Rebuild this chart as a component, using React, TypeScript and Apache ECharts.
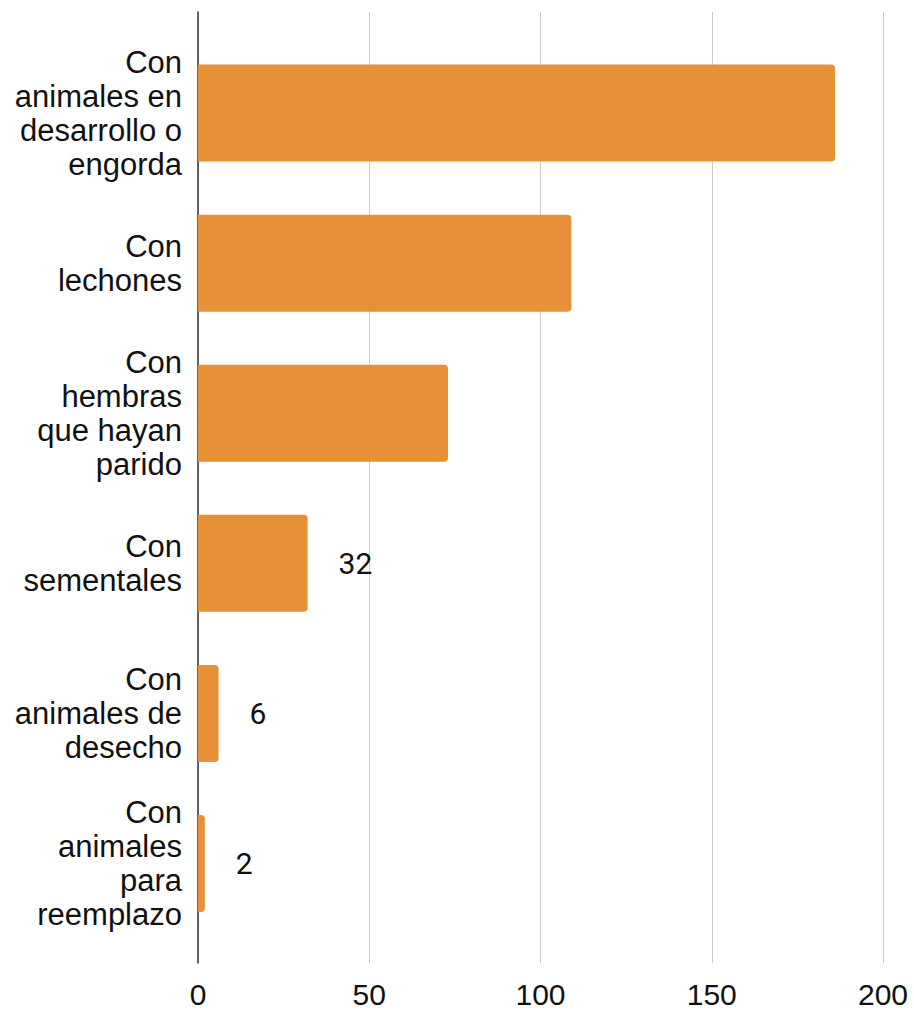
import React, { useEffect, useRef } from "react";
import * as echarts from "echarts";

const categories = [
  "Con\nanimales en\ndesarrollo o\nengorda",
  "Con\nlechones",
  "Con\nhembras\nque hayan\nparido",
  "Con\nsementales",
  "Con\nanimales de\ndesecho",
  "Con\nanimales\npara\nreemplazo",
];
const values = [186, 109, 73, 32, 6, 2];
const labelShown = [false, false, false, true, true, true];
const xMin = 0;
const xMax = 200;
const xInterval = 50;

export default function App() {
  const ref = useRef<HTMLDivElement>(null);
  useEffect(() => {
    if (!ref.current) return;
    const chart = echarts.init(ref.current, undefined, { renderer: "svg" });
    const axisFont = "'Liberation Sans', Arial, sans-serif";
    chart.setOption({
      animation: false,
      backgroundColor: "#ffffff",
      grid: [
        { left: 198, right: 31, top: 12, bottom: 48 },
        { left: 198, right: 31, top: 38, height: 900.6 },
      ],
      xAxis: [
        {
          type: "value",
          gridIndex: 0,
          min: xMin,
          max: xMax,
          interval: xInterval,
          axisLine: { show: false },
          axisTick: { show: false },
          splitLine: { show: true, lineStyle: { color: "#cccccc", width: 1 } },
          axisLabel: {
            color: "#111111",
            fontSize: 30,
            fontFamily: axisFont,
            margin: 16,
          },
        },
        {
          type: "value",
          gridIndex: 1,
          min: xMin,
          max: xMax,
          interval: xInterval,
          show: false,
        },
      ],
      yAxis: [
        {
          type: "value",
          gridIndex: 0,
          axisLine: { show: true, lineStyle: { color: "#333333", width: 1.5 } },
          axisTick: { show: false },
          axisLabel: { show: false },
          splitLine: { show: false },
        },
        {
          type: "category",
          gridIndex: 1,
          inverse: true,
          data: categories,
          axisLine: { show: false },
          axisTick: { show: false },
          splitLine: { show: false },
          axisLabel: {
            color: "#111111",
            fontSize: 31,
            lineHeight: 34,
            fontFamily: axisFont,
            align: "right",
            margin: 16,
          },
        },
      ],
      series: [
        {
          type: "bar",
          xAxisIndex: 1,
          yAxisIndex: 1,
          barWidth: 97,
          itemStyle: { color: "#e69138", borderRadius: [0, 4, 4, 0] },
          label: {
            position: "right",
            distance: 31,
            color: "#111111",
            fontSize: 30,
            fontFamily: "Roboto, sans-serif",
          },
          data: values.map((v, i) => ({ value: v, label: { show: labelShown[i] } })),
        },
      ],
    });
    return () => chart.dispose();
  }, []);
  return (
    <div
      ref={ref}
      style={{ position: "absolute", left: 0, top: 0, width: 914, height: 1011 }}
    />
  );
}
